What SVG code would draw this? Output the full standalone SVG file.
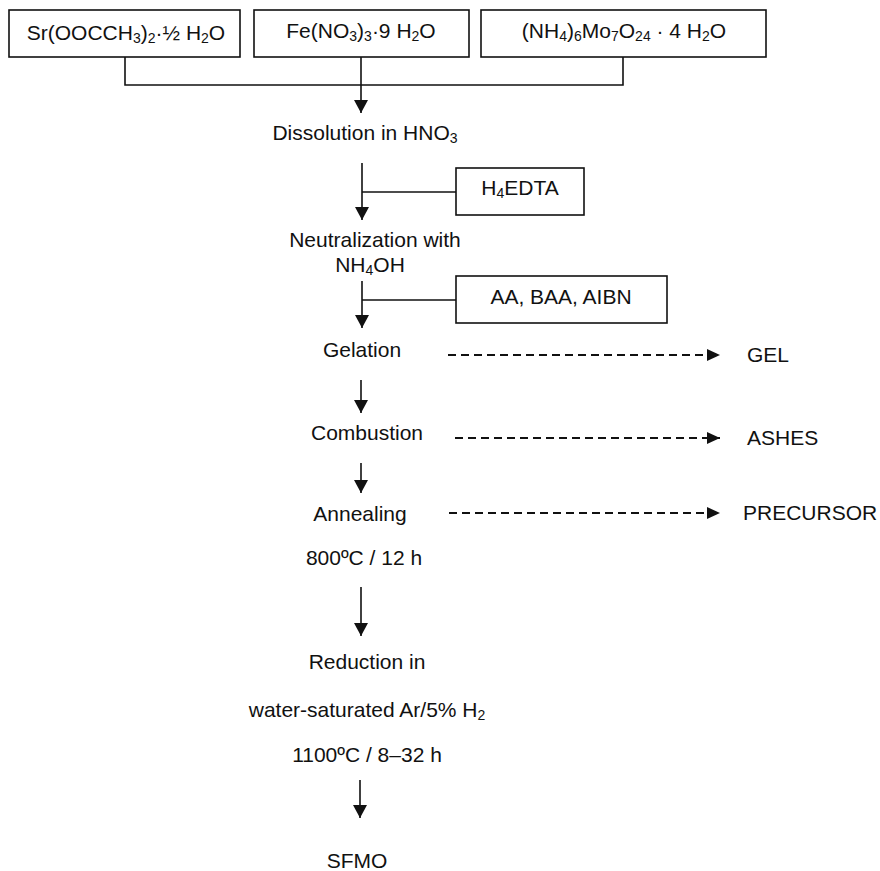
<svg xmlns="http://www.w3.org/2000/svg" width="880" height="871" viewBox="0 0 880 871">
<style>
text{font-family:"Liberation Sans",Arial,sans-serif;font-size:21px;fill:#111}
.c{text-anchor:middle}
.s{font-size:14px}
.box{fill:#fff;stroke:#111;stroke-width:1.6}
.ln{fill:none;stroke:#111;stroke-width:1.6}
.dash{fill:none;stroke:#111;stroke-width:1.8;stroke-dasharray:8 5}
</style>
<defs>
<marker id="ah" markerUnits="userSpaceOnUse" markerWidth="14" markerHeight="14" refX="13" refY="7" orient="auto">
<path d="M0,0 L13,7 L0,14 Z" fill="#111"/>
</marker>
<marker id="dh" markerUnits="userSpaceOnUse" markerWidth="14" markerHeight="12" refX="13" refY="6" orient="auto">
<path d="M0,0 L13,6 L0,12 Z" fill="#111"/>
</marker>
</defs>
<rect width="880" height="871" fill="#fff"/>
<g id="connectors">
<path class="ln" d="M125,57 V85 H623 V57"/>
<path class="ln" d="M361,57 V113" marker-end="url(#ah)"/>
<path class="ln" d="M362,163 V220" marker-end="url(#ah)"/>
<path class="ln" d="M362,192 H456"/>
<path class="ln" d="M362,281 V328" marker-end="url(#ah)"/>
<path class="ln" d="M362,300 H456"/>
<path class="ln" d="M361,380 V413" marker-end="url(#ah)"/>
<path class="ln" d="M361,463 V493" marker-end="url(#ah)"/>
<path class="ln" d="M361,587 V636" marker-end="url(#ah)"/>
<path class="ln" d="M360,780 V818" marker-end="url(#ah)"/>
<path class="dash" d="M448,355 H720" marker-end="url(#dh)"/>
<path class="dash" d="M455,438 H720" marker-end="url(#dh)"/>
<path class="dash" d="M449,513 H720" marker-end="url(#dh)"/>
</g>
<g id="sr">
<rect class="box" x="9" y="10" width="231" height="47"/>
<text class="c" x="126" y="40">Sr(OOCCH<tspan class="s" dy="3">3</tspan><tspan dy="-3">)</tspan><tspan class="s" dy="3">2</tspan><tspan dy="-3">·½ H</tspan><tspan class="s" dy="3">2</tspan><tspan dy="-3">O</tspan></text>
</g>
<g id="fe">
<rect class="box" x="254" y="10" width="215" height="47"/>
<text class="c" x="361" y="38">Fe(NO<tspan class="s" dy="3">3</tspan><tspan dy="-3">)</tspan><tspan class="s" dy="3">3</tspan><tspan dy="-3">·9 H</tspan><tspan class="s" dy="3">2</tspan><tspan dy="-3">O</tspan></text>
</g>
<g id="mo">
<rect class="box" x="481" y="10" width="285" height="47"/>
<text class="c" x="624" y="38">(NH<tspan class="s" dy="3">4</tspan><tspan dy="-3">)</tspan><tspan class="s" dy="3">6</tspan><tspan dy="-3">Mo</tspan><tspan class="s" dy="3">7</tspan><tspan dy="-3">O</tspan><tspan class="s" dy="3">24</tspan><tspan dy="-3"> · 4 H</tspan><tspan class="s" dy="3">2</tspan><tspan dy="-3">O</tspan></text>
</g>
<g id="dissolution">
<text class="c" x="365" y="140">Dissolution in HNO<tspan class="s" dy="3">3</tspan></text>
</g>
<g id="edta">
<rect class="box" x="456" y="168" width="128" height="47"/>
<text class="c" x="520" y="195">H<tspan class="s" dy="3">4</tspan><tspan dy="-3">EDTA</tspan></text>
</g>
<g id="neutralization">
<text class="c" x="375" y="247">Neutralization with</text>
<text class="c" x="370" y="272">NH<tspan class="s" dy="3">4</tspan><tspan dy="-3">OH</tspan></text>
</g>
<g id="additives">
<rect class="box" x="456" y="276" width="211" height="47"/>
<text class="c" x="561" y="304">AA, BAA, AIBN</text>
</g>
<g id="gelation"><text class="c" x="362" y="357">Gelation</text></g>
<g id="gel"><text x="747" y="362">GEL</text></g>
<g id="combustion"><text class="c" x="367" y="440">Combustion</text></g>
<g id="ashes"><text x="747" y="445">ASHES</text></g>
<g id="annealing">
<text class="c" x="360" y="521">Annealing</text>
<text class="c" x="364" y="565">800ºC / 12 h</text>
</g>
<g id="precursor"><text x="743" y="520">PRECURSOR</text></g>
<g id="reduction">
<text class="c" x="367" y="669">Reduction in</text>
<text class="c" x="367" y="717">water-saturated Ar/5% H<tspan class="s" dy="3">2</tspan></text>
<text class="c" x="367" y="762">1100ºC / 8–32 h</text>
</g>
<g id="sfmo"><text class="c" x="357" y="868">SFMO</text></g>
</svg>
